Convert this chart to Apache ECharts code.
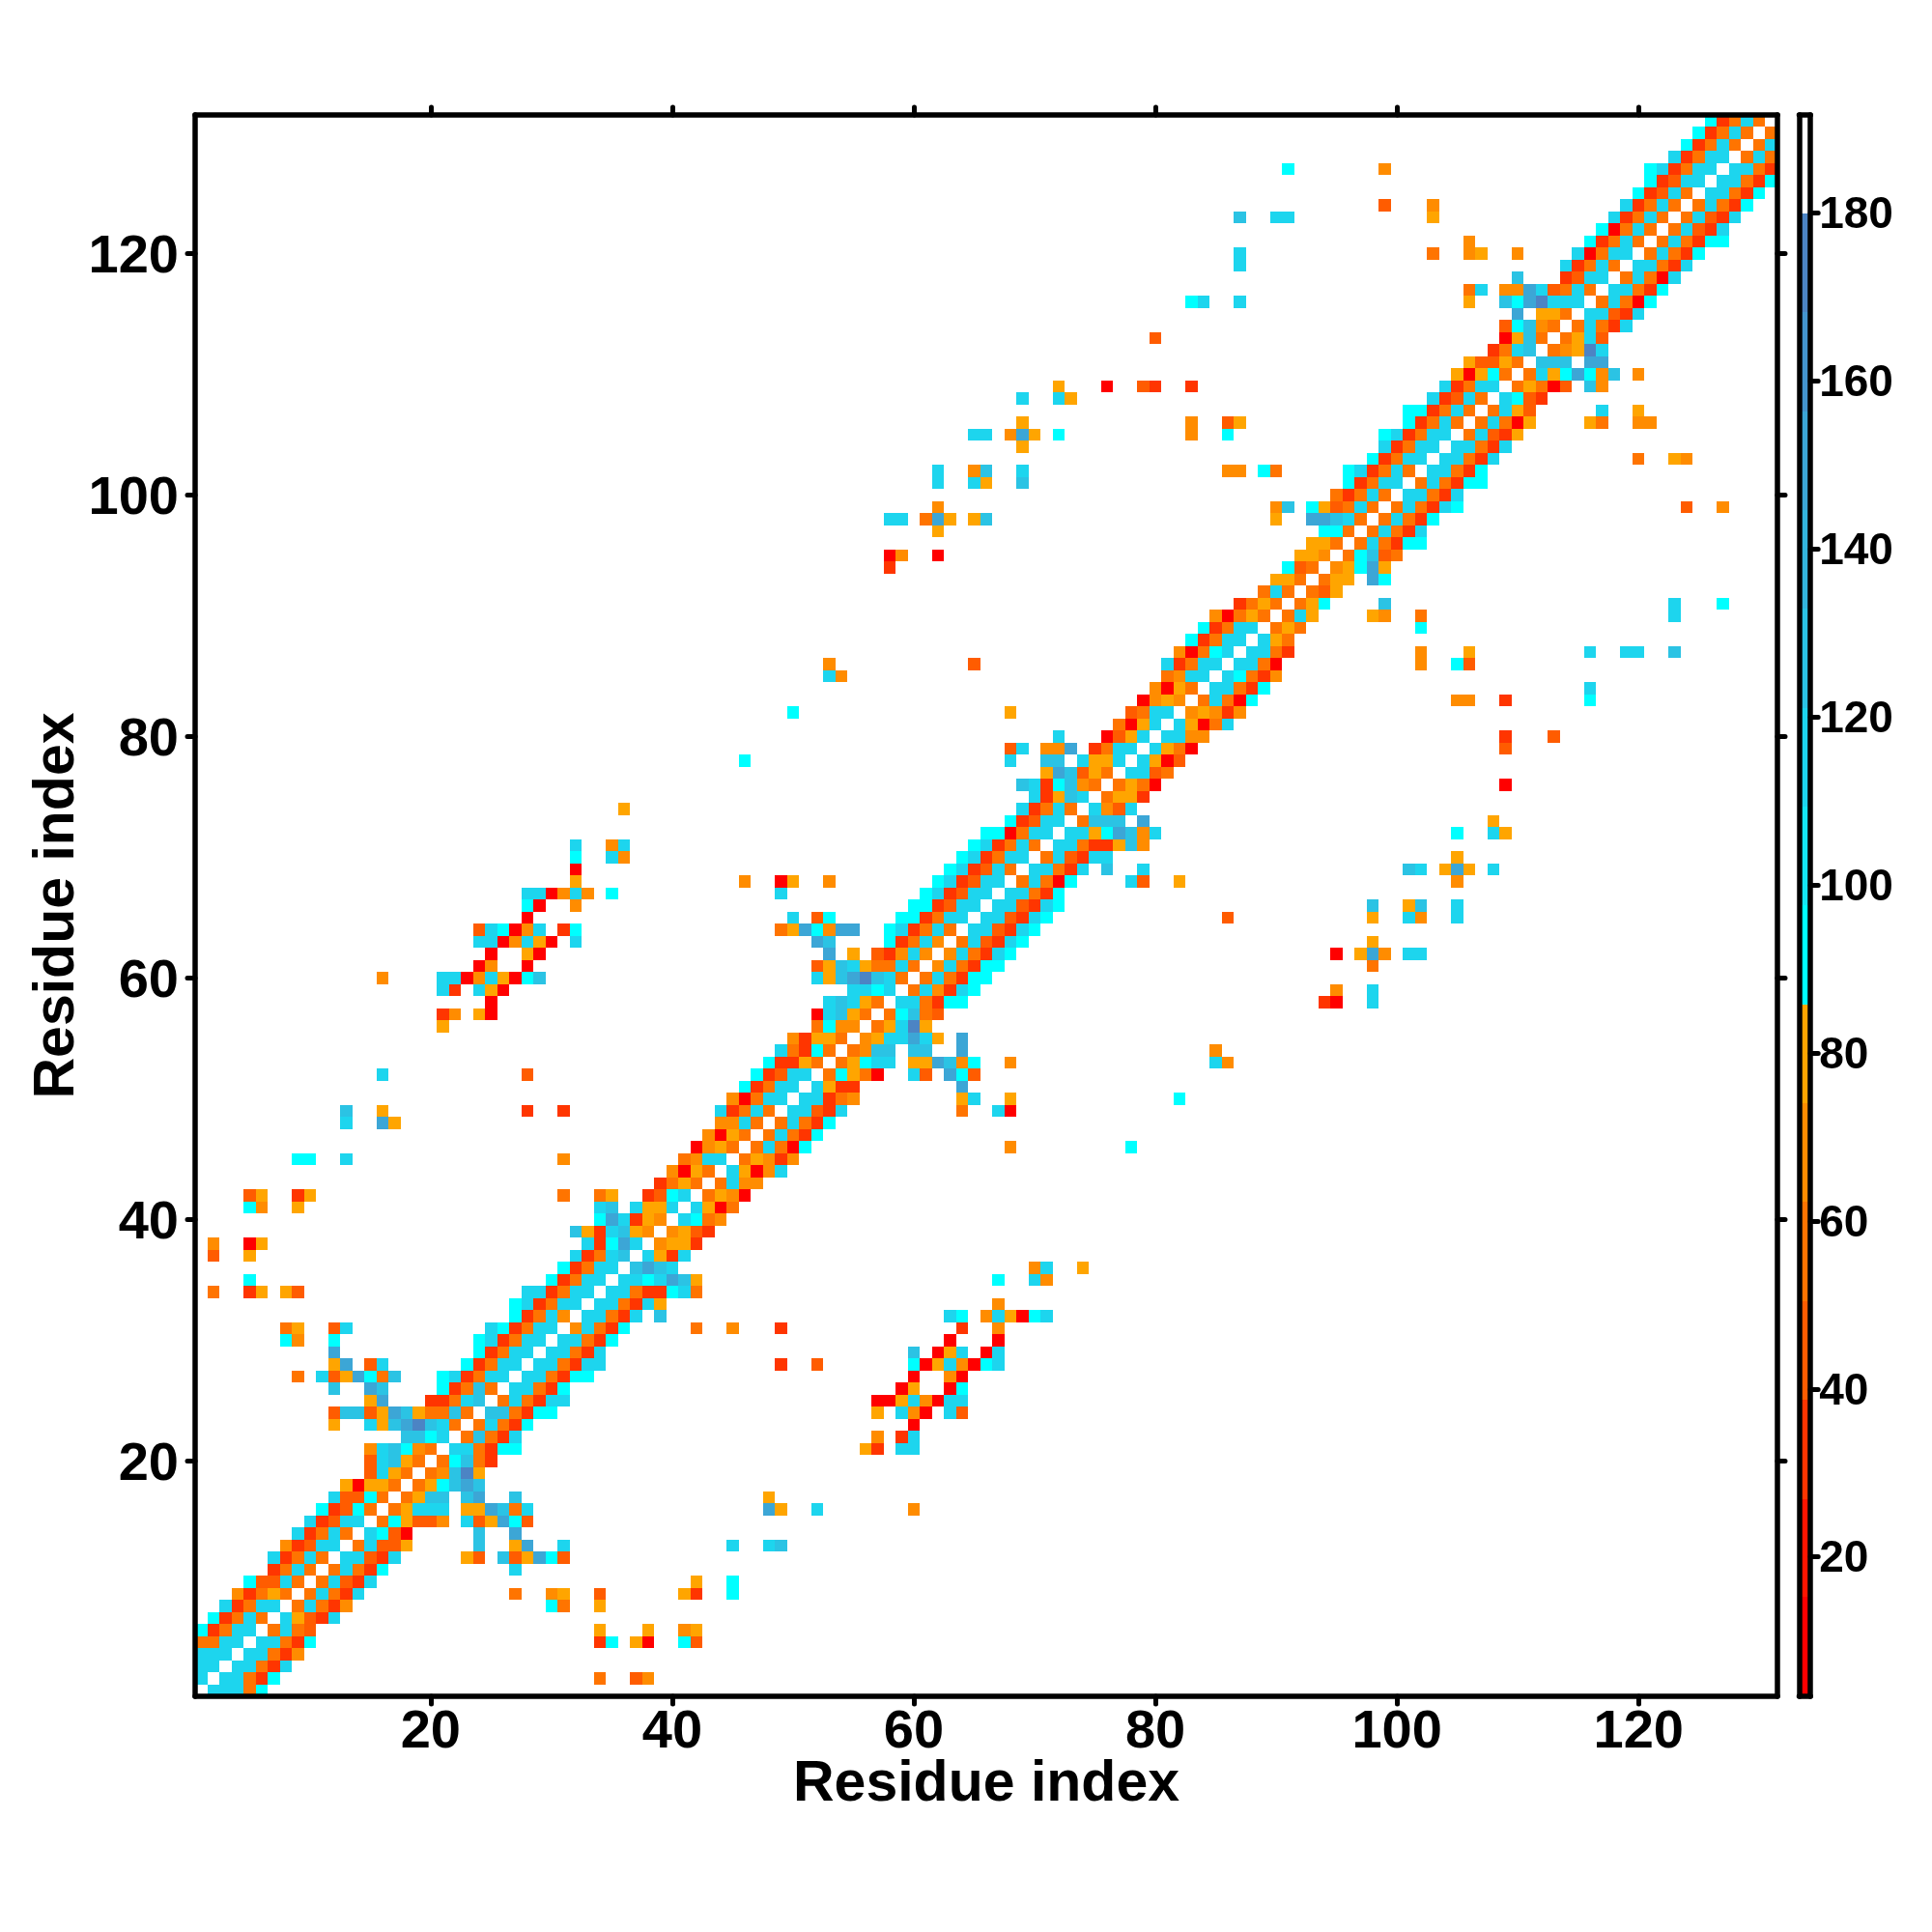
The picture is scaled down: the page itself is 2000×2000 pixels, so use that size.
<!DOCTYPE html>
<html>
<head>
<meta charset="utf-8">
<title>Residue index</title>
<style>
  html, body { margin: 0; background: #fff; }
  #chart { width: 2000px; height: 2000px; }
</style>
<script src="https://cdn.jsdelivr.net/npm/echarts@6/dist/echarts.min.js"></script>
</head>
<body>
<div id="chart"></div>
<script>
(function() {
  const residueCount = 131;
  const residueTicks = [20, 40, 60, 80, 100, 120];
  const colorTicks = [20, 40, 60, 80, 100, 120, 140, 160, 180];
  const colorMin = 3.4;
  const colorMax = 191.7;
  const bandEdges = [3.4, 15.2, 26.9, 38.7, 50.5, 62.3, 74, 85.8, 97.6, 109.3, 121.1, 132.9, 144.7, 156.4, 168.2, 180, 191.7];
  const bandColors = ['#ff0000', '#ff1500', '#ff3500', '#ff5c00', '#ff7400', '#ff8c00', '#ffa500', '#00ffff',
    '#14e6f4', '#1dd5ee', '#2bc3e4', '#33b5dd', '#3ca6d6', '#4494ce', '#4c84c4', '#ffffff'];

  // one letter per estimated value
  const levelCodes = 'abcdefghijk';
  const levelValues = [9, 33, 44, 56, 68, 80, 92, 115, 127, 150, 174];
  const diagonalValue = 186;

  // row i, starting at column i+1, '.' is no contact (matrix is symmetric)
  const nearDiagonal = [
    'hhhdg', 'hhdbg', 'hhdbh', 'hhdbe', 'hhdbg', 'dhdc', 'hfcbh', 'dhdbe', 'dhdbh', 'dhcbh',
    'dhdbg', 'hhcbh', 'dhccf', 'hgca', 'dgfcce.hcfjgc', 'dfhhh.ffjidh', 'dfii.ij..i', 'dfgiji', 'deikf', 'dgidb',
    'hhdbgg', 'didbh', 'dhdbg', 'iidbgg', 'dhdbhh', 'hhdbg', 'hhdbgg', 'hhdbhh', 'hhdbh', 'hhdbg',
    'ehdbg', 'hhdbh.i', 'hhdbhf', 'hhdbbghd', 'hhghjif', 'ijih', 'hfbh', 'effb', 'efcb', 'hgde',
    'hfad', 'dfea', 'dhee', 'hfaeh', 'dfebe', 'dhdag', 'dhdbg', 'dhdbg', 'hhcbh', 'hhbde',
    'hfbb', 'dgfda', 'dfghh.ffjieg', 'deii.ii..j', 'efhhjhf.j', 'dfhkf', 'dgidc', 'hhdbgg', 'dhebhg', 'dhdbgg',
    'ehdbgg', 'ehdbhg', 'dhcbhg', 'hhcbhg', 'hhcbhg', 'hhcbhg', 'hhdbg', 'dhdag', 'hhdbh.i', 'dhcbhh',
    'hhdbbfie', 'hhfgjieh', 'diii.j', 'hech', 'dffb', 'dfda', 'hhcd', 'hfac', 'hfda', 'hhee',
    'hfadh', 'efebe', 'dhdag', 'hhdbg', 'hgdbe', 'hhda', 'hhdb', 'hfd', 'dfd', 'dhf',
    'dfg', 'dcf', 'dff.jg', 'efgjf', 'dgicd', 'dhdbgg', 'dhdbh', 'dhdbg', 'dhdbhg', 'hhdbh',
    'dhdbgg', 'hhdbg', 'hhdbh', 'hhdbh', 'dhcbf', 'dhdaf', 'dhfc', 'hgcb', 'dfdac.ie', 'dhfgjgei.e',
    'iii.jj', 'defkh', 'dfhc', 'dhdbh', 'hhcbh', 'dhdag', 'hhdbg', 'dhdah', 'hhdbh', 'dhdbg',
    'dhdbgg', 'dhcbh', 'dhcbh', 'dhdbg', 'hhdbg', 'hhdbg', 'hhdb', 'dhd', 'dh', 'd'
  ];

  // row, then 'column+level' for the contacts away from the diagonal
  const farContacts = [
    [2, '34d 37c 38e'], [5, '34b 35g 37f 38a 41g 42c'], [6, '34f 38f 41e 42f'], [8, '30g 31d 34f'],
    [9, '27d 30e 31f 34c 41f 42b 45g'], [10, '42f 45g'], [11, '27h'], [12, '23f 24c 26i 27c 28f 29j 30g 31c'],
    [13, '24i 27f 28j 31h 45h 48h 49i'], [14, '24i 27j'], [16, '48j 49f 52h 60e'], [17, '48f'],
    [21, '56f 57b 59h 60h'], [22, '57e 59b 60h'], [23, '60a'], [24, '57f 59h 60e 61a 63h 64c'],
    [25, '57a 58a 59f 60h 61e 62a 63h 64h'], [26, '59a 60f 63a 64g'], [27, '60a 63e 64a'],
    [28, '49b 52c 60g 61a 62f 63h 64e 65a 66g 67h'], [29, '60i 62a 63f 64h 66a 67h'], [30, '63a 67a'],
    [31, '42d 45e 49b 64b 67e'], [32, '63h 64g 66e 67h 68f 69a 70g 71h'], [33, '67e'], [35, '67g 70h 71e'],
    [36, '70e 71h 74f'], [46, '68e 78g'], [49, '64d 67h 68a'], [50, '64f 65h 68f 82g'], [51, '64j'],
    [52, '60h 61c 63j 64g 65c'], [53, '68e 85h 86e'], [54, '85e'], [58, '94b 95a 98h'], [59, '95e 98h'],
    [61, '98d'], [62, '95a 97f 98j 99e 101h 102h'], [63, '98f'], [65, '86c 98f 101h 102e 105h'],
    [66, '98i 101f 102i 105h'], [68, '78h 79c 82f 105e'], [69, '79h 101i 102h 104f 105j 106f 108h'],
    [70, '105f'], [72, '105g 108h 109f'], [73, '108f'], [76, '109a'], [79, '109c'], [80, '109b 113c'],
    [83, '105e 106e 109b 116g'], [84, '116h'], [86, '102e 105g 106c'], [87, '102e 106f 116h 119h 120h 123i'],
    [89, '102g'], [90, '98f 99e 102d 123h'], [91, '99i 123h 127g'], [99, '124c 127e'],
    [103, '120d 123f 124e'], [106, '116f 117d 120e 121e'], [107, '117h 120f']
  ];

  const cells = [];
  const addContact = (row, col, code) => {
    const value = levelValues[levelCodes.indexOf(code)];
    cells.push([col, row, value], [row, col, value]);
  };
  for (let i = 1; i <= residueCount; i++) {
    cells.push([i, i, diagonalValue]);
  }
  nearDiagonal.forEach((codes, idx) => {
    const row = idx + 1;
    codes.split('').forEach((code, k) => {
      if (code !== '.') addContact(row, row + 1 + k, code);
    });
  });
  farContacts.forEach(([row, list]) => {
    list.split(' ').forEach(item => {
      addContact(row, parseInt(item, 10), item[item.length - 1]);
    });
  });

  const bands = bandColors.map((c, i) => [bandEdges[i], bandEdges[i + 1], (bandEdges[i] + bandEdges[i + 1]) / 2]);
  const pieces = bandColors.map((c, i) => ({ gte: bandEdges[i], lt: bandEdges[i + 1], color: c }));

  const fontFamily = '"Liberation Sans", Arial, sans-serif';
  const frame = { show: true, onZero: false, lineStyle: { color: '#000', width: 5.5 } };
  const tickStyle = { color: '#000', width: 5, cap: 'round' };
  const labelStyle = { color: '#000', fontFamily: fontFamily, fontWeight: 'bold', fontSize: 56 };
  const titleStyle = { color: '#000', fontFamily: fontFamily, fontWeight: 'bold', fontSize: 59 };

  const residueAxis = (position, extra) => Object.assign({
    type: 'value',
    gridIndex: 0,
    position: position,
    min: 0.5,
    max: residueCount + 0.5,
    z: 10,
    splitLine: { show: false },
    axisLine: frame,
    axisTick: { show: true, customValues: residueTicks, length: 8, lineStyle: tickStyle },
    axisLabel: { show: false }
  }, extra);

  const colorbarX = position => ({
    type: 'value',
    gridIndex: 1,
    position: position,
    min: 0,
    max: 1,
    z: 10,
    splitLine: { show: false },
    axisLine: frame,
    axisTick: { show: false },
    axisLabel: { show: false }
  });

  const renderCell = (params, api) => {
    const x = api.value(0);
    const y = api.value(1);
    const a = api.coord([x - 0.5, y + 0.5]);
    const b = api.coord([x + 0.5, y - 0.5]);
    const left = Math.round(a[0]);
    const top = Math.round(a[1]);
    return {
      type: 'rect',
      shape: { x: left, y: top, width: Math.round(b[0]) - left, height: Math.round(b[1]) - top },
      style: { fill: api.visual('color') }
    };
  };

  const renderBand = (params, api) => {
    const a = api.coord([0, api.value(1)]);
    const b = api.coord([1, api.value(0)]);
    return {
      type: 'rect',
      shape: { x: a[0], y: Math.round(a[1]), width: b[0] - a[0], height: Math.round(b[1]) - Math.round(a[1]) },
      style: { fill: api.visual('color') }
    };
  };

  const option = {
    animation: false,
    backgroundColor: '#fff',
    grid: [
      { left: 202, top: 119, width: 1638, height: 1637, outerBoundsMode: 'none' },
      { left: 1862.5, top: 119, width: 11.7, height: 1637, outerBoundsMode: 'none' }
    ],
    visualMap: {
      show: false,
      type: 'piecewise',
      dimension: 2,
      seriesIndex: [0, 1],
      pieces: pieces
    },
    xAxis: [
      residueAxis('bottom', {
        name: 'Residue index',
        nameLocation: 'middle',
        nameGap: 62,
        nameMoveOverlap: false,
        nameTextStyle: titleStyle,
        axisLabel: Object.assign({ show: true, margin: 10, customValues: residueTicks }, labelStyle)
      }),
      residueAxis('top'),
      colorbarX('bottom'),
      colorbarX('top')
    ],
    yAxis: [
      residueAxis('left', {
        name: 'Residue index',
        nameLocation: 'middle',
        nameGap: 113,
        nameMoveOverlap: false,
        nameRotate: 90,
        nameTextStyle: titleStyle,
        axisLabel: Object.assign({
          show: true,
          margin: 17,
          verticalAlign: 'top',
          padding: [-24, 0, 0, 0],
          customValues: residueTicks
        }, labelStyle)
      }),
      residueAxis('right'),
      {
        type: 'value',
        gridIndex: 1,
        position: 'left',
        min: colorMin,
        max: colorMax,
        z: 10,
        splitLine: { show: false },
        axisLine: frame,
        axisTick: { show: false },
        axisLabel: { show: false }
      },
      {
        type: 'value',
        gridIndex: 1,
        position: 'right',
        min: colorMin,
        max: colorMax,
        z: 10,
        splitLine: { show: false },
        axisLine: frame,
        axisTick: { show: true, customValues: colorTicks, length: 8, lineStyle: tickStyle },
        axisLabel: {
          show: true,
          margin: 9,
          verticalAlign: 'top',
          padding: [-20, 0, 0, 0],
          customValues: colorTicks,
          color: '#000',
          fontFamily: fontFamily,
          fontWeight: 'bold',
          fontSize: 46
        }
      }
    ],
    series: [
      {
        type: 'custom',
        xAxisIndex: 0,
        yAxisIndex: 0,
        clip: true,
        progressive: 0,
        encode: { x: 0, y: 1 },
        renderItem: renderCell,
        data: cells
      },
      {
        type: 'custom',
        xAxisIndex: 2,
        yAxisIndex: 2,
        clip: true,
        progressive: 0,
        encode: { y: [0, 1] },
        renderItem: renderBand,
        data: bands
      }
    ]
  };

  const chart = echarts.init(document.getElementById('chart'), null, { renderer: 'canvas' });
  chart.setOption(option);
}());
</script>
</body>
</html>
